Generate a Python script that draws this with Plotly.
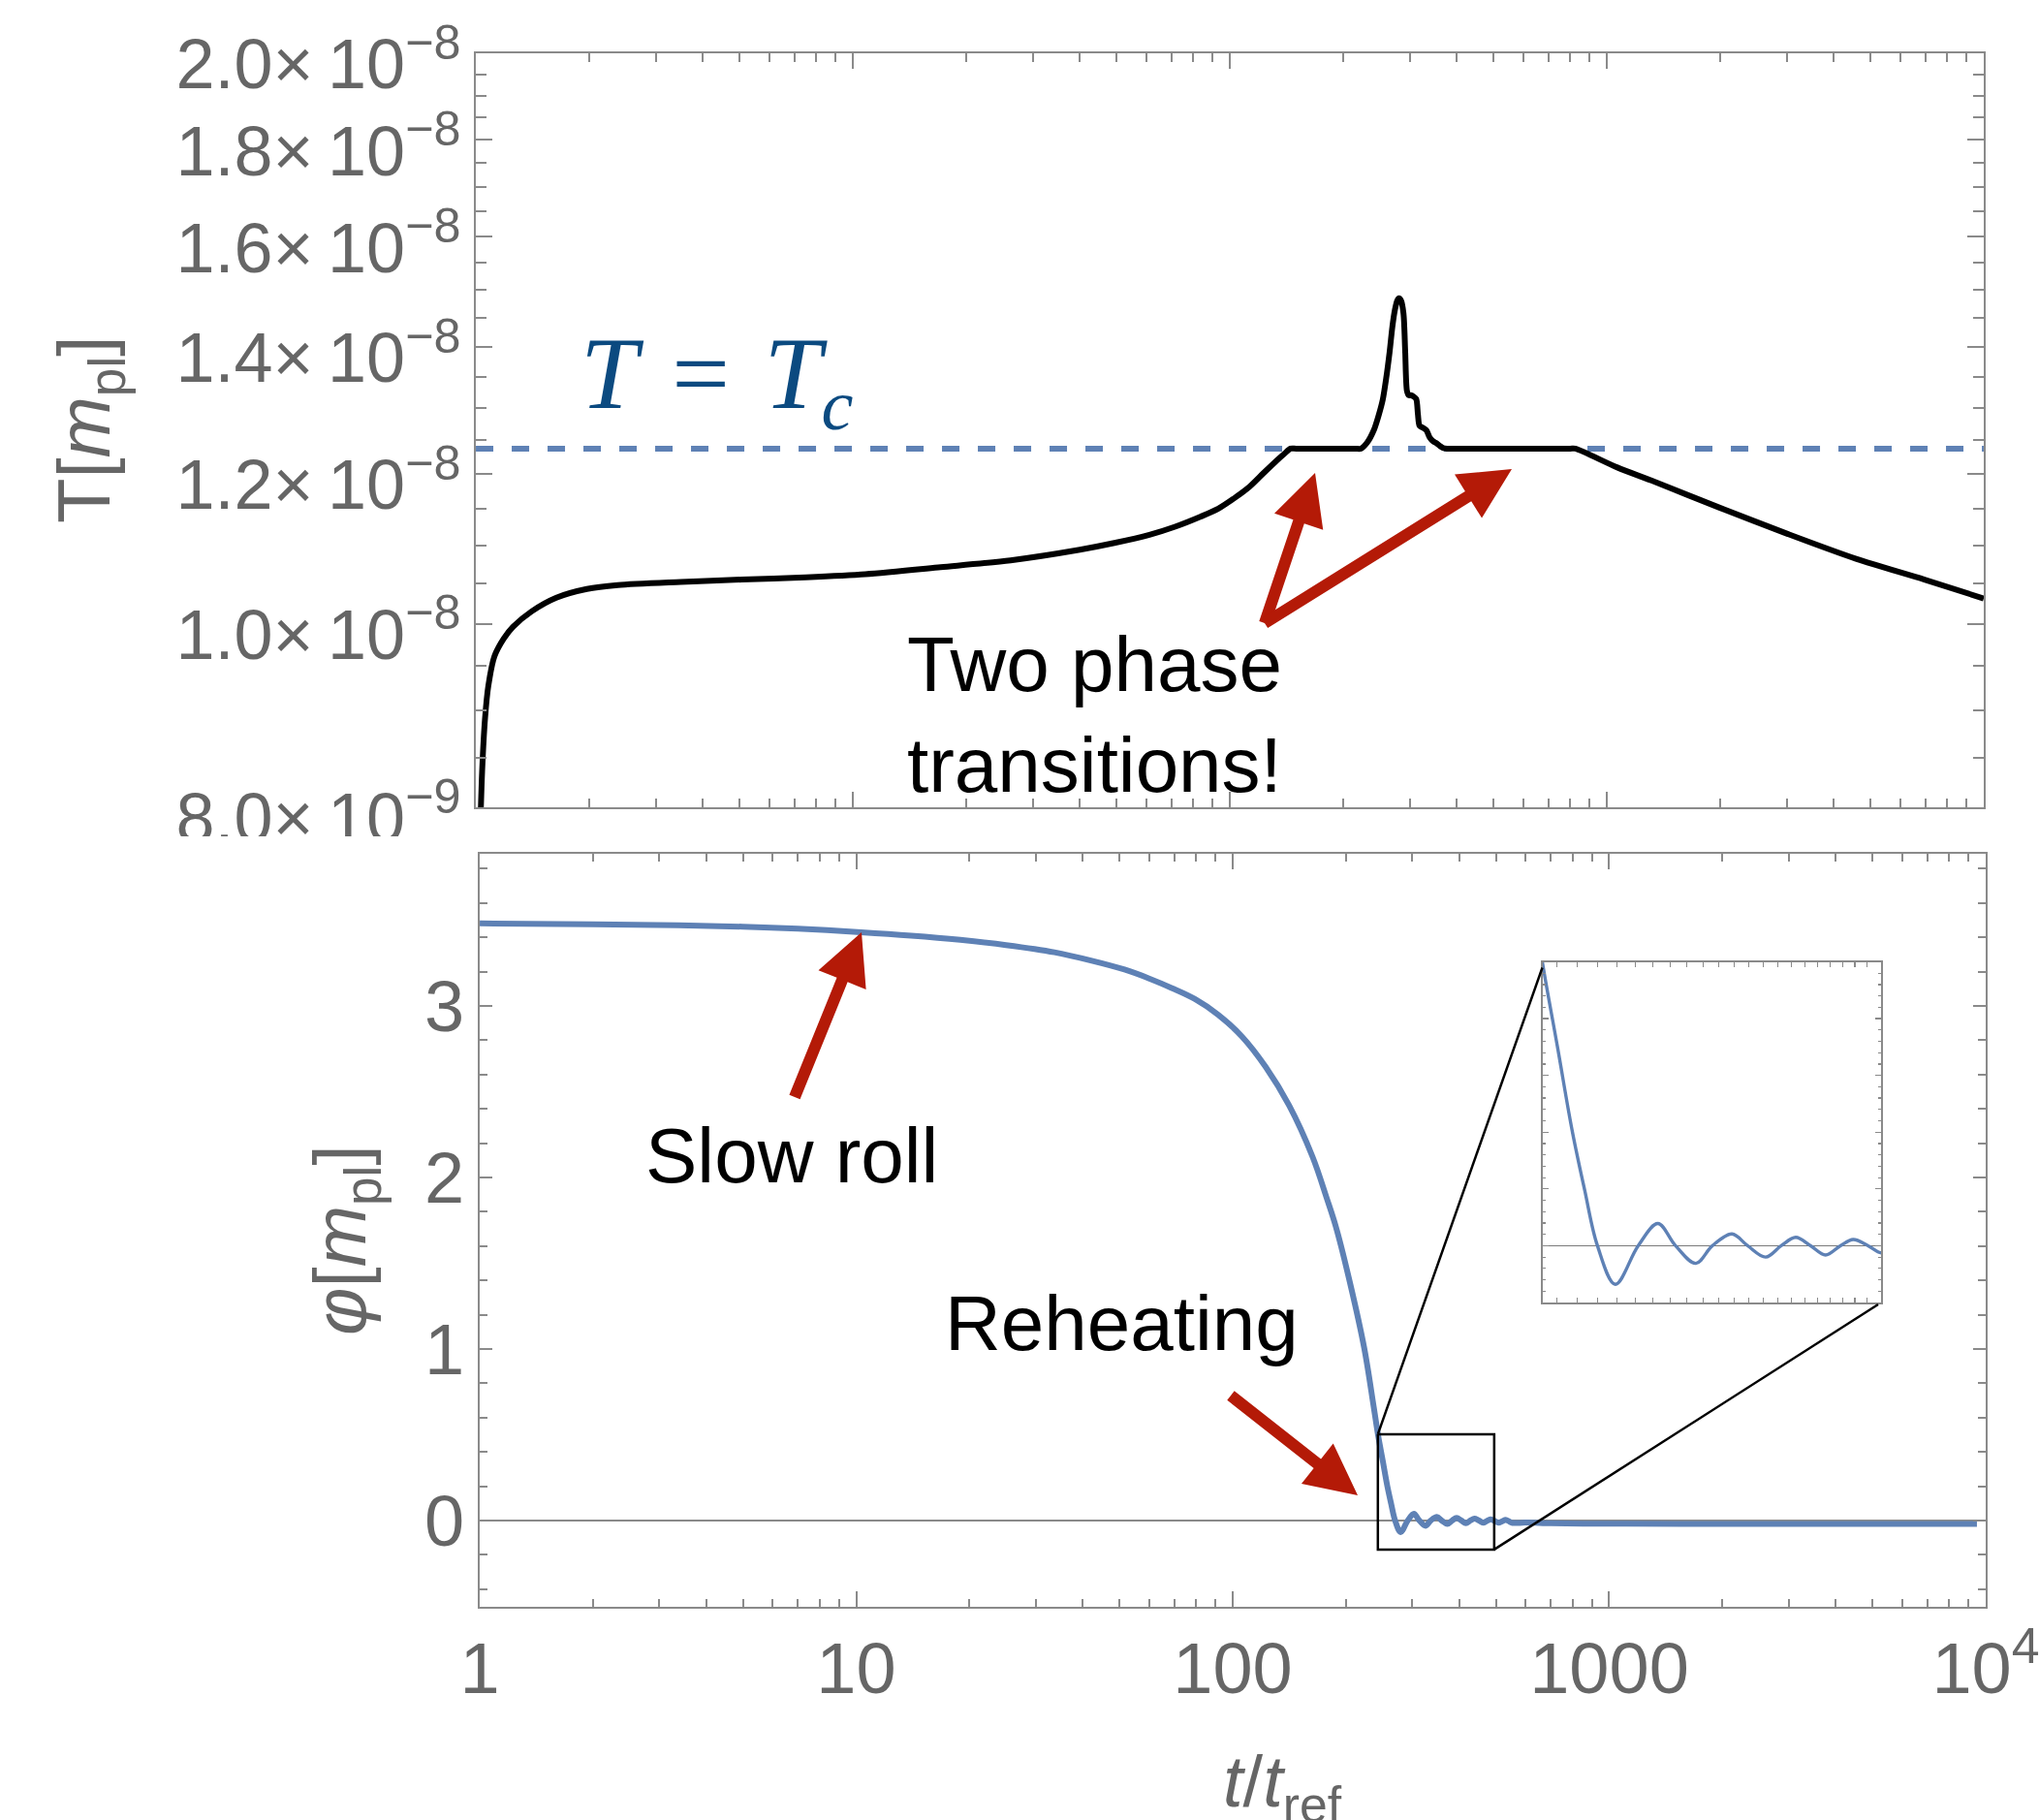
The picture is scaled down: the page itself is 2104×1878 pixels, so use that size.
import numpy as np
import plotly.graph_objects as go

W, H = 2104, 1878

# ---------------- temperature history (T in units of 1e-8 m_pl) ----------------
t_T = [1.02, 1.039, 1.058, 1.079, 1.12, 1.186, 1.254, 1.406, 1.635, 1.97,
       2.38, 3.5, 5.07, 7.5, 10.8, 17.1, 26.2, 40.0, 49.4, 61.2,
       71.6, 83.8, 93.2, 103.6, 112.8, 123.0, 133.6, 139.3, 145.0, 150.0,
       215.0, 222.7, 231.3, 241.4, 249.1, 254.4, 260.0, 265.4, 270.0, 274.1,
       278.1, 281.1, 284.6, 288.9, 292.0, 295.1, 298.3, 303.0, 307.0, 312.2,
       315.5, 318.7, 325.0, 332.2, 339.0, 346.4, 354.0, 361.1, 368.0, 376.6,
       390.0, 800.0, 824.0, 1067.0, 1313.0, 2000.0, 3027.0, 4585.0, 6966.0, 10000.0]
T_e8 = [0.74, 0.836, 0.892, 0.927, 0.961, 0.982, 0.996, 1.015, 1.032, 1.043,
        1.048, 1.052, 1.055, 1.058, 1.062, 1.071, 1.080, 1.094, 1.103, 1.114,
        1.125, 1.139, 1.150, 1.166, 1.181, 1.201, 1.220, 1.229, 1.237, 1.237,
        1.237, 1.237, 1.246, 1.266, 1.291, 1.312, 1.348, 1.391, 1.435, 1.464,
        1.481, 1.485, 1.481, 1.458, 1.391, 1.327, 1.320, 1.320, 1.318, 1.314,
        1.290, 1.272, 1.269, 1.265, 1.254, 1.248, 1.245, 1.241, 1.238, 1.237,
        1.237, 1.237, 1.237, 1.209, 1.190, 1.151, 1.115, 1.082, 1.055, 1.031]
T_crit_e8 = 1.237

# ---------------- inflaton field phi (units of m_pl) ----------------
t_phi = [1.0, 2.0, 3.37, 5.0, 7.0, 10.3, 14.0, 18.9, 25.0, 33.6,
         42.0, 51.6, 60.0, 68.8, 79.4, 91.5, 105.9, 122.4, 141.2, 163.0,
         178.0, 188.0, 205.0, 223.5, 237.0, 243.2, 250.3, 257.4, 263.5, 270.0,
         279.3, 291.7, 302.8, 313.1, 325.4, 335.8, 348.5, 359.0, 371.5, 382.6,
         393.3, 404.6, 416.2, 428.1, 438.6, 451.2, 462.4, 474.0, 485.0, 497.0,
         508.0, 520.0, 531.0, 543.0, 554.0, 600.0, 700.0, 850.0, 1100.0, 1600.0,
         2500.0, 4000.0, 6500.0, 9480.0]
phi = [3.481, 3.476, 3.470, 3.462, 3.450, 3.430, 3.410, 3.385, 3.355, 3.313,
       3.265, 3.212, 3.160, 3.105, 3.040, 2.949, 2.821, 2.644, 2.420, 2.120,
       1.875, 1.712, 1.384, 1.006, 0.660, 0.500, 0.350, 0.202, 0.0985, 0.0,
       -0.068, 0.0, 0.039, 0.0, -0.031, 0.0, 0.0207, 0.0, -0.020, 0.0,
       0.0148, 0.0, -0.0163, 0.0, 0.011, 0.0, -0.0126, -0.002, 0.007, -0.003,
       -0.013, -0.004, 0.004, -0.006, -0.014, -0.012, -0.016, -0.018, -0.019, -0.020,
       -0.020, -0.020, -0.020, -0.020]

# zoom window shown in the inset (t range, phi range)
zoom_t = [243.0, 495.0]
zoom_phi = [-0.169, 0.503]
inset_t_range = [243.2, 462.4]
inset_phi_range = [-0.1, 0.5]

# ---------------- tick definitions ----------------
T_tick_e8 = [0.8, 1.0, 1.2, 1.4, 1.6, 1.8, 2.0]
T_ticktext = ["8.0×\u200910<sup>\u22129</sup>",
              "1.0×\u200910<sup>\u22128</sup>",
              "1.2×\u200910<sup>\u22128</sup>",
              "1.4×\u200910<sup>\u22128</sup>",
              "1.6×\u200910<sup>\u22128</sup>",
              "1.8×\u200910<sup>\u22128</sup>",
              "2.0×\u200910<sup>\u22128</sup>"]
T_minor_e8 = [0.85, 0.9, 0.95, 1.05, 1.1, 1.15, 1.25, 1.3, 1.35, 1.45,
              1.5, 1.55, 1.65, 1.7, 1.75, 1.85, 1.9, 1.95]
t_ticks = [1, 10, 100, 1000, 10000]
t_ticktext = ["1", "10", "100", "1000", "10<sup>4</sup>"]
t_minor = [2, 3, 4, 5, 6, 7, 8, 9, 20, 30, 40, 50, 60, 70, 80, 90,
           200, 300, 400, 500, 600, 700, 800, 900,
           2000, 3000, 4000, 5000, 6000, 7000, 8000, 9000]
phi_ticks = [0, 1, 2, 3]
phi_minor = [-0.4, -0.2, 0.2, 0.4, 0.6, 0.8, 1.2, 1.4, 1.6, 1.8,
             2.2, 2.4, 2.6, 2.8, 3.2, 3.4, 3.6, 3.8]
inset_t_ticks = [250, 260, 270, 280, 290, 300, 310, 320, 330, 340, 350,
                 360, 370, 380, 390, 400, 410, 420, 430, 440, 450]
inset_phi_ticks = [0.0, 0.1, 0.2, 0.3, 0.4]
inset_phi_minor = [-0.08, -0.06, -0.04, -0.02, 0.02, 0.04, 0.06, 0.08,
                   0.12, 0.14, 0.16, 0.18, 0.22, 0.24, 0.26, 0.28,
                   0.32, 0.34, 0.36, 0.38, 0.42, 0.44, 0.46, 0.48]

# ---------------- layout geometry (pixels) ----------------
TOP = (491, 2047, 55, 833)      # x0, x1, y0, y1
BOT = (495, 2049, 881, 1658)
INS = (1591.5, 1941, 992.5, 1344)
BOT_PHI_RANGE = [-0.503, 3.887]

FRAME = "#8a8a8a"
LABEL = "#666666"
BLUE = "#5e81b5"
RED = "#b41a07"
SANS = "Liberation Sans, Arial, sans-serif"
SERIF = "Liberation Serif, Times New Roman, serif"


def px(x):
    return x / W


def py(y):
    return 1 - y / H


def dom_x(b):
    return [b[0] / W, b[1] / W]


def dom_y(b):
    return [1 - b[3] / H, 1 - b[2] / H]


def bot_to_px(t, p):
    x = BOT[0] + np.log10(t) / 4.0 * (BOT[1] - BOT[0])
    y = BOT[3] - (p - BOT_PHI_RANGE[0]) / (BOT_PHI_RANGE[1] - BOT_PHI_RANGE[0]) * (BOT[3] - BOT[2])
    return x, y


def arrow_path(tail, tip, shaft=12.0, head_len=53.0, head_w=53.0):
    tail = np.array(tail, float)
    tip = np.array(tip, float)
    u = (tip - tail) / np.linalg.norm(tip - tail)
    n = np.array([-u[1], u[0]])
    base = tip - u * head_len
    pts = [tail + n * shaft / 2, base + n * shaft / 2, base + n * head_w / 2, tip,
           base - n * head_w / 2, base - n * shaft / 2, tail - n * shaft / 2]
    return "M " + " L ".join(f"{px(p[0]):.6f},{py(p[1]):.6f}" for p in pts) + " Z"


fig = go.Figure()

# upper panel: critical temperature and T(t)
fig.add_trace(go.Scatter(x=[1, 10000], y=[T_crit_e8 * 1e-8] * 2, mode="lines",
                         line=dict(color=BLUE, width=6, dash="18px,19px"),
                         xaxis="x", yaxis="y", hoverinfo="skip"))
fig.add_trace(go.Scatter(x=t_T, y=np.array(T_e8) * 1e-8, mode="lines",
                         line=dict(color="black", width=6, shape="spline", smoothing=0.8),
                         xaxis="x", yaxis="y", hoverinfo="skip"))

# lower panel: phi(t)
fig.add_trace(go.Scatter(x=t_phi, y=phi, mode="lines",
                         line=dict(color=BLUE, width=6, shape="spline"),
                         xaxis="x2", yaxis="y2", hoverinfo="skip"))
fig.add_trace(go.Scatter(x=[zoom_t[0], zoom_t[1], zoom_t[1], zoom_t[0], zoom_t[0]],
                         y=[zoom_phi[1], zoom_phi[1], zoom_phi[0], zoom_phi[0], zoom_phi[1]],
                         mode="lines", line=dict(color="black", width=2.5),
                         xaxis="x2", yaxis="y2", hoverinfo="skip"))

# inset: zoom on the reheating oscillations
fig.add_trace(go.Scatter(x=t_phi, y=phi, mode="lines",
                         line=dict(color=BLUE, width=3.4, shape="spline"),
                         xaxis="x3", yaxis="y3", hoverinfo="skip"))

frame = dict(showline=True, linecolor=FRAME, linewidth=2, mirror="allticks", automargin=False,
             ticks="inside", tickcolor=FRAME, tickwidth=2, showgrid=False, zeroline=False)

fig.update_layout(
    template="none",
    width=W, height=H, autosize=False,
    margin=dict(l=0, r=0, t=0, b=0, pad=0),
    paper_bgcolor="white", plot_bgcolor="white",
    showlegend=False,
    xaxis=dict(**frame, type="log", range=[-0.0001, 4.0001], domain=dom_x(TOP), anchor="y",
               tickmode="array", tickvals=t_ticks, ticklen=16, showticklabels=False,
               minor=dict(tickmode="array", tickvals=t_minor, ticks="inside", ticklen=9,
                          tickcolor=FRAME, tickwidth=2)),
    yaxis=dict(**frame, type="log",
               range=[np.log10(0.8e-8) - 1e-5, np.log10(2.0e-8) + 1e-5],
               domain=dom_y(TOP), anchor="x",
               tickmode="array", tickvals=[v * 1e-8 for v in T_tick_e8], ticktext=T_ticktext,
               ticklen=17, tickfont=dict(family=SANS, size=72, color=LABEL),
               ticklabelstandoff=-1, ticklabelshift=11, ticklabeloverflow="allow",
               minor=dict(tickmode="array", tickvals=[v * 1e-8 for v in T_minor_e8],
                          ticks="inside", ticklen=11, tickcolor=FRAME, tickwidth=2)),
    xaxis2=dict(**frame, type="log", range=[-0.0001, 4.0001], domain=dom_x(BOT), anchor="y2",
                tickmode="array", tickvals=t_ticks, ticktext=t_ticktext, ticklen=16,
                tickfont=dict(family=SANS, size=74, color=LABEL), ticklabelstandoff=-2,
                ticklabeloverflow="allow",
                minor=dict(tickmode="array", tickvals=t_minor, ticks="inside", ticklen=8,
                           tickcolor=FRAME, tickwidth=2)),
    yaxis2=dict(**{**frame, "zeroline": True}, range=BOT_PHI_RANGE, domain=dom_y(BOT), anchor="x2",
                zerolinecolor=FRAME, zerolinewidth=2.2,
                tickmode="array", tickvals=phi_ticks, ticklen=13,
                tickfont=dict(family=SANS, size=74, color=LABEL), ticklabelstandoff=-1,
                ticklabeloverflow="allow",
                minor=dict(tickmode="array", tickvals=phi_minor, ticks="inside", ticklen=8,
                           tickcolor=FRAME, tickwidth=2)),
    xaxis3=dict(showline=True, linecolor=FRAME, linewidth=1.5, mirror="allticks", automargin=False,
                ticks="inside", tickcolor=FRAME, tickwidth=1.2, showgrid=False, zeroline=False,
                type="log", range=[np.log10(inset_t_range[0]), np.log10(inset_t_range[1])],
                domain=dom_x(INS), anchor="y3", tickmode="array", tickvals=inset_t_ticks,
                ticklen=5, showticklabels=False),
    yaxis3=dict(showline=True, linecolor=FRAME, linewidth=1.5, mirror="allticks", automargin=False,
                ticks="inside", tickcolor=FRAME, tickwidth=1.2, showgrid=False,
                zeroline=True, zerolinecolor="#7a7a7a", zerolinewidth=1.3,
                range=inset_phi_range, domain=dom_y(INS), anchor="x3",
                tickmode="array", tickvals=inset_phi_ticks, ticklen=6, showticklabels=False,
                minor=dict(tickmode="array", tickvals=inset_phi_minor, ticks="inside", ticklen=3,
                           tickcolor=FRAME, tickwidth=1.2)),
)

shapes = []
# blank strip between the two panels
shapes.append(dict(type="rect", xref="paper", yref="paper", x0=0, x1=px(489),
                   y0=py(880), y1=py(863), fillcolor="white", line=dict(width=0), layer="above"))
# connector lines from the zoom box to the inset
bx0, by0 = bot_to_px(zoom_t[0], zoom_phi[1])
bx1, by1 = bot_to_px(zoom_t[1], zoom_phi[0])
shapes.append(dict(type="line", xref="paper", yref="paper", x0=px(bx0), y0=py(by0),
                   x1=px(INS[0]), y1=py(INS[2] + 6), line=dict(color="black", width=2.5), layer="above"))
shapes.append(dict(type="line", xref="paper", yref="paper", x0=px(bx1), y0=py(by1),
                   x1=px(INS[1] - 3), y1=py(INS[3] + 2), line=dict(color="black", width=2.5), layer="above"))
# annotation arrows
for tail, tip in [((1305, 643), (1357, 488)),
                  ((1305, 643), (1560, 484)),
                  ((820, 1132), (889, 962)),
                  ((1270, 1440), (1401, 1543))]:
    shapes.append(dict(type="path", xref="paper", yref="paper", path=arrow_path(tail, tip),
                       fillcolor=RED, line=dict(width=0), layer="above"))
fig.update_layout(shapes=shapes)

ann = []
ann.append(dict(text="<i>T</i>\u200a = \u200a<i>T<sub>c</sub></i>", x=px(597), y=py(393),
                xref="paper", yref="paper", xanchor="left", yanchor="middle", showarrow=False,
                font=dict(family=SERIF, size=106, color="#0b4a80")))
ann.append(dict(text="Two phase<br>transitions!", x=px(934), y=py(737), align="left",
                xref="paper", yref="paper", xanchor="left", yanchor="middle", showarrow=False,
                font=dict(family=SANS, size=80, color="black")))
ann.append(dict(text="Slow roll", x=px(664), y=py(1192),
                xref="paper", yref="paper", xanchor="left", yanchor="middle", showarrow=False,
                font=dict(family=SANS, size=80, color="black")))
ann.append(dict(text="Reheating", x=px(973), y=py(1365),
                xref="paper", yref="paper", xanchor="left", yanchor="middle", showarrow=False,
                font=dict(family=SANS, size=80, color="black")))
# axis titles
ann.append(dict(text="T[<i>m</i><sub>pl</sub>]", x=px(92), y=py(444), textangle=-90,
                xref="paper", yref="paper", xanchor="center", yanchor="middle", showarrow=False,
                font=dict(family=SANS, size=76, color=LABEL)))
ann.append(dict(text="<i>φ</i>[<i>m</i><sub>pl</sub>]", x=px(356), y=py(1280), textangle=-90,
                xref="paper", yref="paper", xanchor="center", yanchor="middle", showarrow=False,
                font=dict(family=SANS, size=76, color=LABEL)))
ann.append(dict(text="<i>t</i>/<i>t</i><sub>ref</sub>", x=px(1323), y=py(1795),
                xref="paper", yref="paper", xanchor="center", yanchor="top", showarrow=False,
                font=dict(family=SANS, size=74, color=LABEL)))
fig.update_layout(annotations=ann)

fig.write_html("out.html", include_plotlyjs=True, full_html=True,
               config={"displayModeBar": False, "staticPlot": True},
               post_script="document.body.style.margin='0';document.body.style.overflow='hidden';")
